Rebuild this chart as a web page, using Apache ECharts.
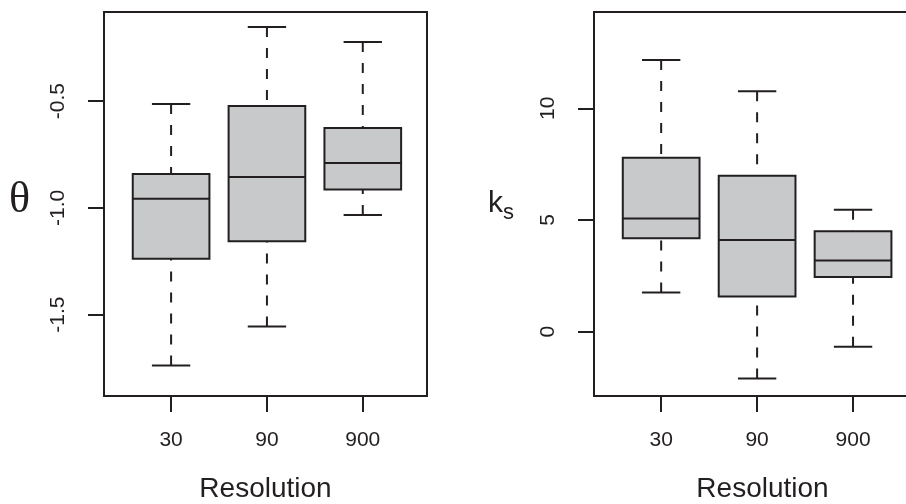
<!DOCTYPE html>
<html>
<head>
<meta charset="utf-8">
<script src="https://cdn.jsdelivr.net/npm/echarts@6/dist/echarts.min.js"></script>
<style>html,body{margin:0;padding:0;background:#fff}#c{width:906px;height:504px}</style>
</head>
<body>
<div id="c"></div>
<script>
// ---- data ----
const categories = ['30', '90', '900'];
// theta panel: lower whisker, Q1, median, Q3, upper whisker
const thetaLow    = [-1.738, -1.555, -1.033];
const thetaQ1     = [-1.238, -1.157, -0.914];
const thetaMedian = [-0.958, -0.855, -0.790];
const thetaQ3     = [-0.841, -0.523, -0.626];
const thetaHigh   = [-0.514, -0.153, -0.224];
// k_s panel
const ksLow    = [1.75, -2.10, -0.67];
const ksQ1     = [4.18, 1.57, 2.45];
const ksMedian = [5.07, 4.10, 3.19];
const ksQ3     = [7.79, 6.98, 4.49];
const ksHigh   = [12.16, 10.76, 5.46];
// tick labels
const thetaTicks = [-1.5, -1.0, -0.5];
const ksTicks = [0, 5, 10];

const INK = '#231f20';
const FILL = '#c8c9cb';
const FONT = 'Liberation Sans, Arial, sans-serif';

function buildData(lo, q1, md, q3, hi) {
  return categories.map((c, i) => [i + 1, lo[i], q1[i], md[i], q3[i], hi[i]]);
}

function renderBox(params, api) {
  const x = api.value(0), lo = api.value(1), q1 = api.value(2),
        md = api.value(3), q3 = api.value(4), hi = api.value(5);
  const half = 0.4, cap = 0.2;
  const tl = api.coord([x - half, q3]), br = api.coord([x + half, q1]);
  const m1 = api.coord([x - half, md]), m2 = api.coord([x + half, md]);
  const pLo = api.coord([x, lo]), pQ1 = api.coord([x, q1]);
  const pHi = api.coord([x, hi]), pQ3 = api.coord([x, q3]);
  const cl1 = api.coord([x - cap, lo]), cl2 = api.coord([x + cap, lo]);
  const ch1 = api.coord([x - cap, hi]), ch2 = api.coord([x + cap, hi]);
  const solid = () => ({stroke: INK, lineWidth: 2, fill: null});
  const dashed = () => ({stroke: INK, lineWidth: 2, fill: null, lineDash: [10, 11], lineDashOffset: 0});
  return {
    type: 'group',
    children: [
      {type: 'line', shape: {x1: pLo[0], y1: pLo[1], x2: pQ1[0], y2: pQ1[1]}, style: dashed()},
      {type: 'line', shape: {x1: pHi[0], y1: pHi[1], x2: pQ3[0], y2: pQ3[1]}, style: dashed()},
      {type: 'line', shape: {x1: cl1[0], y1: cl1[1], x2: cl2[0], y2: cl2[1]}, style: solid()},
      {type: 'line', shape: {x1: ch1[0], y1: ch1[1], x2: ch2[0], y2: ch2[1]}, style: solid()},
      {type: 'rect', shape: {x: tl[0], y: tl[1], width: br[0] - tl[0], height: br[1] - tl[1]},
        style: {fill: FILL, stroke: INK, lineWidth: 2}},
      {type: 'line', shape: {x1: m1[0], y1: m1[1], x2: m2[0], y2: m2[1]}, style: solid()}
    ]
  };
}

function xAxisFor(gridIndex, max) {
  return {
    type: 'value', gridIndex: gridIndex, min: 0.3, max: max,
    axisLine: {show: false, onZero: false}, splitLine: {show: false},
    axisTick: {show: true, customValues: [1, 2, 3], length: 16, lineStyle: {color: INK, width: 2}},
    axisLabel: {customValues: [1, 2, 3], formatter: v => categories[Math.round(v) - 1],
      fontSize: 21, margin: 34, color: INK, fontFamily: FONT},
    name: 'Resolution', nameLocation: 'middle', nameGap: 79,
    nameTextStyle: {fontSize: 28, color: INK, fontFamily: FONT}
  };
}

function yAxisFor(gridIndex, min, max, ticks, fmt, name, nameGap, nameStyle) {
  return {
    type: 'value', gridIndex: gridIndex, min: min, max: max,
    axisLine: {show: false, onZero: false}, splitLine: {show: false},
    axisTick: {show: true, customValues: ticks, length: 16, lineStyle: {color: INK, width: 2}},
    axisLabel: {customValues: ticks, formatter: fmt, rotate: 90,
      fontSize: 21, margin: 35, color: INK, fontFamily: FONT},
    name: name, nameLocation: 'middle', nameRotate: 0, nameGap: nameGap,
    nameTextStyle: nameStyle
  };
}

const chart = echarts.init(document.getElementById('c'), null, {renderer: 'canvas'});
chart.setOption({
  backgroundColor: '#ffffff',
  animation: false,
  textStyle: {fontFamily: FONT},
  grid: [
    {left: 104, top: 12, width: 323, height: 384, show: true, borderColor: INK, borderWidth: 2,
      backgroundColor: 'transparent', containLabel: false, outerBoundsMode: 'none'},
    {left: 594, top: 12, width: 337, height: 384, show: true, borderColor: INK, borderWidth: 2,
      backgroundColor: 'transparent', containLabel: false, outerBoundsMode: 'none'}
  ],
  xAxis: [xAxisFor(0, 3.67), xAxisFor(1, 3.8125)],
  yAxis: [
    yAxisFor(0, -1.881, -0.083, thetaTicks, v => v.toFixed(1), '{t|θ}{g|}', 74,
      {color: INK, rich: {
        t: {fontFamily: 'Liberation Serif, Times New Roman, serif', fontSize: 44, lineHeight: 44,
          color: INK, verticalAlign: 'top'},
        g: {height: 52, width: 0}
      }}),
    yAxisFor(1, -2.88, 14.31, ksTicks, v => String(v), '{k|k}{s|s}', 80,
      {color: INK, rich: {
        k: {fontSize: 30, fontFamily: FONT, color: INK},
        s: {fontSize: 22, fontFamily: FONT, color: INK, padding: [18, 0, 0, 0]}
      }})
  ],
  series: [
    {type: 'custom', xAxisIndex: 0, yAxisIndex: 0, renderItem: renderBox, clip: false,
      encode: {x: 0, y: [1, 2, 3, 4, 5]},
      data: buildData(thetaLow, thetaQ1, thetaMedian, thetaQ3, thetaHigh)},
    {type: 'custom', xAxisIndex: 1, yAxisIndex: 1, renderItem: renderBox, clip: false,
      encode: {x: 0, y: [1, 2, 3, 4, 5]},
      data: buildData(ksLow, ksQ1, ksMedian, ksQ3, ksHigh)}
  ]
});
</script>
</body>
</html>
